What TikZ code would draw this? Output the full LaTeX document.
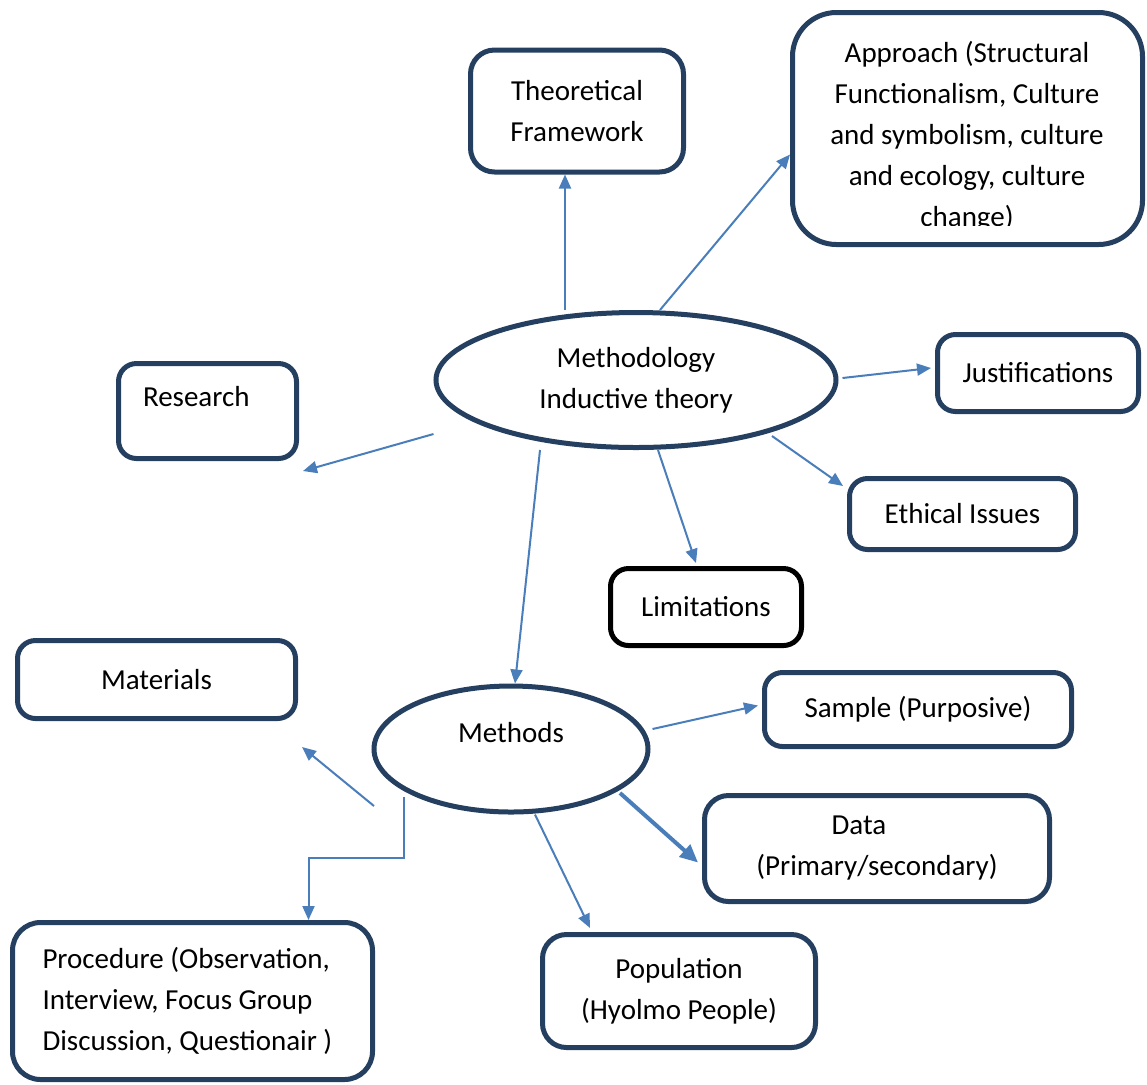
\documentclass[tikz,border=0pt]{standalone}
\usepackage{fontspec}
\setmainfont{Carlito}
\usetikzlibrary{shapes.geometric,arrows.meta}
\definecolor{boxblue}{HTML}{243F60}
\definecolor{arrowblue}{HTML}{4A7EBB}

\begin{document}
\begin{tikzpicture}[x=0.5pt,y=-0.5pt]
        \tikzstyle{every node}=[font=\fontsize{14.5}{20.5}\selectfont, align=center, inner sep=0pt]
        \tikzstyle{box}=[draw=boxblue, line width=2.5pt, rounded corners=9pt, fill=white]
        \tikzstyle{oval}=[draw=boxblue, line width=2.5pt, ellipse, fill=white]
        \tikzstyle{link}=[draw=arrowblue, line width=1pt, -{Triangle[length=7pt,width=6pt]}]
        \useasboundingbox (0,0) rectangle (1147,1084);

        % centre
        \node[oval, minimum width=200pt, minimum height=67.5pt] (mth) at (636,380) {Methodology\\Inductive theory};
        \node[oval, minimum width=137pt, minimum height=63pt, text height=10pt, text depth=17pt] (mtd) at (511,749) {Methods};

        % upper boxes
        \node[box, rounded corners=12pt, minimum width=106.5pt, minimum height=61pt] (thf) at (577,111) {Theoretical\\Framework};
        \node[box, rounded corners=22pt, minimum width=175pt, minimum height=116pt] (apr) at (967.5,128.5) {};
        \begin{scope}
            \clip (792,12) rectangle (1143,225);
            \node (aprtxt) at (967,136) {Approach (Structural\\Functionalism, Culture\\and symbolism, culture\\and ecology, culture\\change)};
        \end{scope}
        \node[box, minimum width=89pt, minimum height=47.5pt, text width=64.5pt, align=flush left, text height=10pt, text depth=15pt] (res) at (207.5,411) {Research};
        \node[box, minimum width=100.5pt, minimum height=38.5pt] (jus) at (1038,373) {Justifications};
        \node[box, minimum width=113pt, minimum height=35.5pt] (eth) at (962.5,514) {Ethical Issues};
        \node[box, draw=black, minimum width=95.5pt, minimum height=38.5pt] (lim) at (706,607) {Limitations};

        % lower boxes
        \node[box, minimum width=139pt, minimum height=39pt] (mat) at (156.5,679.5) {Materials};
        \node[box, minimum width=153.5pt, minimum height=37pt] (smp) at (918,709.5) {Sample (Purposive)};
        \node[box, rounded corners=12pt, minimum width=172.5pt, minimum height=53pt] (dat) at (877,848.5) {Data\hspace*{18pt}\\(Primary/secondary)};
        \node[box, rounded corners=12pt, minimum width=136.5pt, minimum height=56.5pt] (pop) at (679,991) {Population\\(Hyolmo People)};
        \node[box, rounded corners=14pt, minimum width=180pt, minimum height=78.5pt, text width=150pt, align=flush left] (prc) at (192.5,1001) {Procedure (Observation,\\Interview, Focus Group\\Discussion, Questionair )};

        % arrows from methodology
        \coordinate (up) at ([xshift=-35.5pt]mth.north);
        \draw[link] (up) -- (up |- thf.south);
        \draw[link] ([xshift=12pt]mth.north) -- ([yshift=-13pt]apr.west);
        \draw[link] ([yshift=-27pt]mth.west) -- ([xshift=2pt,yshift=-5pt]res.south east);
        \draw[link] ([xshift=2pt,yshift=1pt]mth.east) -- ([xshift=-2pt,yshift=2.5pt]jus.west);
        \draw[link] ([xshift=68pt,yshift=-28pt]mth.center) -- ([xshift=-2pt,yshift=-5pt]eth.north west);
        \draw[link] ([xshift=11pt]mth.south) -- ([xshift=-5pt,yshift=1.5pt]lim.north);
        \draw[link] ([xshift=-48pt]mth.south) -- ([xshift=2pt]mtd.north);

        % arrows from methods
        \draw[link] ([xshift=-68.5pt,yshift=-28.5pt]mtd.center) -- ([xshift=2pt,yshift=-13pt]mat.south east);
        \draw[link] ([xshift=-53.5pt,yshift=-24pt]mtd.center) -- ++(0,61) -| ([xshift=58pt]prc.north);
        \draw[link] ([xshift=12pt]mtd.south) -- ([xshift=25pt,yshift=2pt]pop.north west);
        \draw[link, line width=2pt, -{Triangle[length=9pt,width=8pt]}] ([xshift=54.5pt,yshift=-22pt]mtd.center) -- ([xshift=-2pt,yshift=-7pt]dat.west);
        \draw[link] ([xshift=1pt,yshift=10pt]mtd.east) -- ([xshift=-2pt,yshift=2pt]smp.west);
\end{tikzpicture}
\end{document}
